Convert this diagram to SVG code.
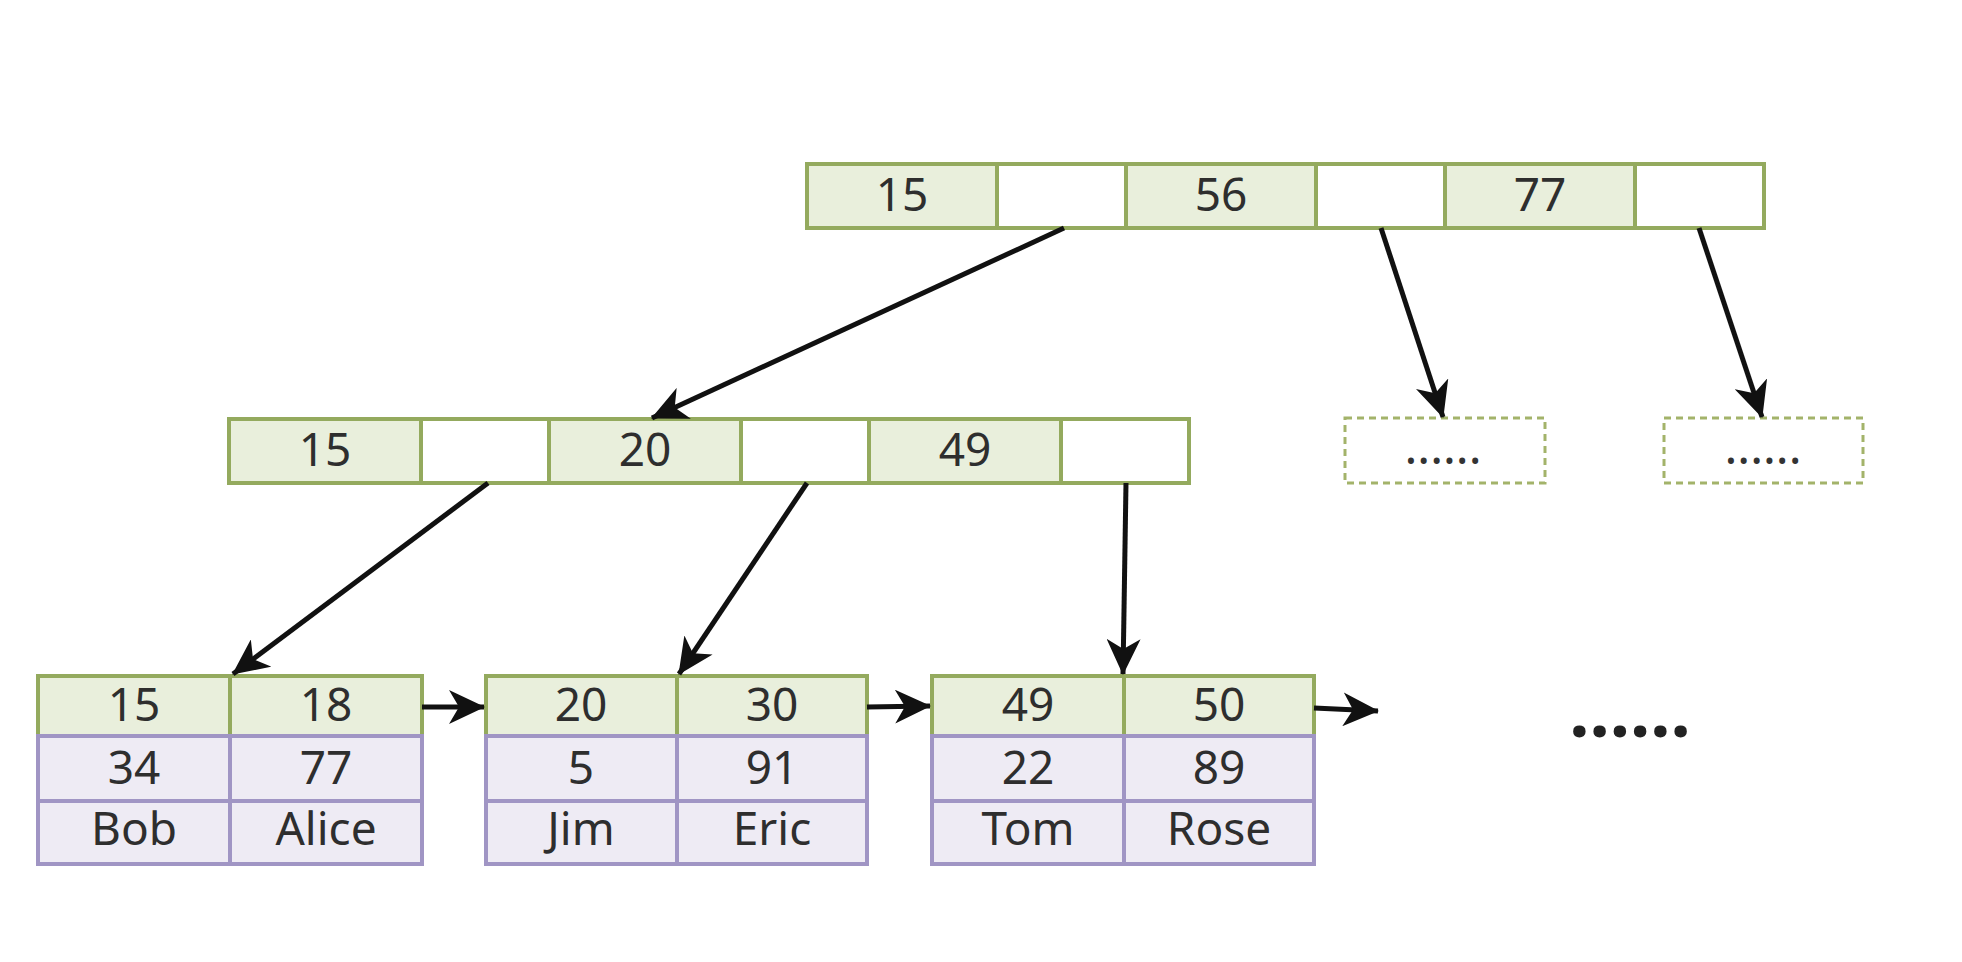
<svg xmlns="http://www.w3.org/2000/svg" width="1962" height="962" viewBox="0 0 1962 962">
<style>
.g{fill:#e9efdc;stroke:#94aa5e;stroke-width:4}
.w{fill:#ffffff;stroke:#94aa5e;stroke-width:4}
.p{fill:#eeebf4;stroke:#a095c4;stroke-width:4}
.d{fill:#ffffff;stroke:#a3b36a;stroke-width:3;stroke-dasharray:7 5}
.t{font-family:"Noto Sans","Open Sans","DejaVu Sans",sans-serif;font-size:46px;fill:#2e2e2e;text-anchor:middle}
.s{font-family:"Noto Sans","DejaVu Sans",sans-serif;font-size:48px;fill:#333333;text-anchor:middle}
.b{font-family:"Noto Sans","DejaVu Sans",sans-serif;font-size:72px;font-weight:bold;fill:#222222;text-anchor:middle}
.c{stroke:#111111;stroke-width:5;fill:none;marker-end:url(#ah)}
</style>
<defs>
<marker id="ah" markerUnits="userSpaceOnUse" viewBox="0 0 36 34" markerWidth="36" markerHeight="34" refX="35" refY="17" orient="auto">
<path d="M0,0 L36,17 L0,34 L10,17 Z" fill="#111111"/>
</marker>
</defs>
<rect width="1962" height="962" fill="#ffffff"/>

<g id="root">
<rect class="g" x="807" y="164" width="190" height="64"/>
<rect class="w" x="997" y="164" width="129" height="64"/>
<rect class="g" x="1126" y="164" width="190" height="64"/>
<rect class="w" x="1316" y="164" width="129" height="64"/>
<rect class="g" x="1445" y="164" width="190" height="64"/>
<rect class="w" x="1635" y="164" width="129" height="64"/>
<text class="t" x="902" y="211">15</text>
<text class="t" x="1221" y="211">56</text>
<text class="t" x="1540" y="211">77</text>
</g>

<g id="inner">
<rect class="g" x="229" y="419" width="192" height="64"/>
<rect class="w" x="421" y="419" width="128" height="64"/>
<rect class="g" x="549" y="419" width="192" height="64"/>
<rect class="w" x="741" y="419" width="128" height="64"/>
<rect class="g" x="869" y="419" width="192" height="64"/>
<rect class="w" x="1061" y="419" width="128" height="64"/>
<text class="t" x="325" y="466">15</text>
<text class="t" x="645" y="466">20</text>
<text class="t" x="965" y="466">49</text>
</g>

<g id="more1">
<rect class="d" x="1345" y="418" width="200" height="65"/>
<text class="s" x="1443" y="464">......</text>
</g>
<g id="more2">
<rect class="d" x="1664" y="418" width="199" height="65"/>
<text class="s" x="1763" y="464">......</text>
</g>

<g id="leaf1">
<rect class="g" x="38" y="676" width="192" height="60"/>
<rect class="g" x="230" y="676" width="192" height="60"/>
<rect class="p" x="38" y="736" width="192" height="65"/>
<rect class="p" x="230" y="736" width="192" height="65"/>
<rect class="p" x="38" y="801" width="192" height="63"/>
<rect class="p" x="230" y="801" width="192" height="63"/>
<text class="t" x="134" y="721">15</text>
<text class="t" x="326" y="721">18</text>
<text class="t" x="134" y="784">34</text>
<text class="t" x="326" y="784">77</text>
<text class="t" x="134" y="845">Bob</text>
<text class="t" x="326" y="845">Alice</text>
</g>

<g id="leaf2">
<rect class="g" x="486" y="676" width="191" height="60"/>
<rect class="g" x="677" y="676" width="190" height="60"/>
<rect class="p" x="486" y="736" width="191" height="65"/>
<rect class="p" x="677" y="736" width="190" height="65"/>
<rect class="p" x="486" y="801" width="191" height="63"/>
<rect class="p" x="677" y="801" width="190" height="63"/>
<text class="t" x="581" y="721">20</text>
<text class="t" x="772" y="721">30</text>
<text class="t" x="581" y="784">5</text>
<text class="t" x="772" y="784">91</text>
<text class="t" x="581" y="845">Jim</text>
<text class="t" x="772" y="845">Eric</text>
</g>

<g id="leaf3">
<rect class="g" x="932" y="676" width="192" height="60"/>
<rect class="g" x="1124" y="676" width="190" height="60"/>
<rect class="p" x="932" y="736" width="192" height="65"/>
<rect class="p" x="1124" y="736" width="190" height="65"/>
<rect class="p" x="932" y="801" width="192" height="63"/>
<rect class="p" x="1124" y="801" width="190" height="63"/>
<text class="t" x="1028" y="721">49</text>
<text class="t" x="1219" y="721">50</text>
<text class="t" x="1028" y="784">22</text>
<text class="t" x="1219" y="784">89</text>
<text class="t" x="1028" y="845">Tom</text>
<text class="t" x="1219" y="845">Rose</text>
</g>

<g id="more3">
<text class="b" x="1630" y="737">......</text>
</g>

<g id="connectors">
<line class="c" x1="1064" y1="228" x2="652" y2="418"/>
<line class="c" x1="1381" y1="228" x2="1443" y2="417"/>
<line class="c" x1="1699" y1="228" x2="1762" y2="417"/>
<line class="c" x1="488" y1="483" x2="233" y2="674"/>
<line class="c" x1="807" y1="483" x2="679" y2="674"/>
<line class="c" x1="1126" y1="483" x2="1123" y2="674"/>
<line class="c" x1="422" y1="707" x2="484" y2="707"/>
<line class="c" x1="867" y1="707" x2="930" y2="706"/>
<line class="c" x1="1314" y1="708" x2="1378" y2="711"/>
</g>
</svg>
